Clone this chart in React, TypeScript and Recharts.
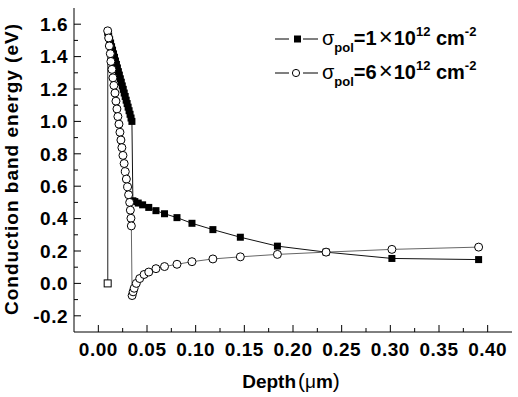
// Conduction band energy vs depth for two polarization charge densities

import { Legend, Line, LineChart, XAxis, YAxis } from "recharts";

// sigma_pol = 1e12 cm^-2 (filled squares)
const depthLow = [
  0.0096, 0.0096, 0.0106, 0.0116, 0.0126, 0.0136, 0.0146, 0.0156, 0.0166, 0.0176,
  0.0186, 0.0196, 0.0206, 0.0216, 0.0226, 0.0236, 0.0246, 0.0256, 0.0266, 0.0276,
  0.0286, 0.0296, 0.0306, 0.0316, 0.0326, 0.0336, 0.0345, 0.0355, 0.0375, 0.041,
  0.0455, 0.0518, 0.0592, 0.068, 0.0808, 0.0962, 0.1177, 0.1459, 0.184, 0.234,
  0.3016, 0.3907,
];
const energyLow = [
  0.0, 1.55, 1.527, 1.505, 1.484, 1.461, 1.44, 1.417, 1.396, 1.373,
  1.352, 1.33, 1.307, 1.286, 1.263, 1.242, 1.219, 1.198, 1.175, 1.154,
  1.131, 1.11, 1.088, 1.066, 1.044, 1.021, 1.0, 0.51, 0.505, 0.496,
  0.485, 0.469, 0.449, 0.43, 0.406, 0.371, 0.332, 0.285, 0.23, 0.193,
  0.154, 0.147,
];

// sigma_pol = 6e12 cm^-2 (open circles)
const depthHigh = [
  0.0096, 0.0096, 0.0106, 0.0113, 0.0123, 0.0129, 0.014, 0.015, 0.016, 0.0171,
  0.0181, 0.0191, 0.0201, 0.0212, 0.0222, 0.0232, 0.0242, 0.0253, 0.0265, 0.0277,
  0.0288, 0.0301, 0.0311, 0.0322, 0.0329, 0.0335, 0.0339, 0.0347, 0.0357, 0.0368,
  0.039, 0.0425, 0.047, 0.0518, 0.0592, 0.068, 0.0808, 0.0962, 0.1177, 0.1459,
  0.184, 0.234, 0.3016, 0.3907,
];
const energyHigh = [
  0.0, 1.559, 1.515, 1.466, 1.418, 1.37, 1.321, 1.269, 1.222, 1.175,
  1.125, 1.077, 1.03, 0.983, 0.933, 0.885, 0.838, 0.79, 0.74, 0.69,
  0.644, 0.596, 0.547, 0.5, 0.452, 0.402, 0.355, -0.075, -0.052, -0.03,
  0.0, 0.03, 0.055, 0.07, 0.091, 0.104, 0.118, 0.134, 0.151, 0.164,
  0.179, 0.193, 0.21, 0.224,
];

const xTicks = [
  0, 0.025, 0.05, 0.075, 0.1, 0.125, 0.15, 0.175, 0.2, 0.225, 0.25, 0.275, 0.3,
  0.325, 0.35, 0.375, 0.4,
];
const yTicks = [
  -0.2, -0.1, 0, 0.1, 0.2, 0.3, 0.4, 0.5, 0.6, 0.7, 0.8, 0.9, 1.0, 1.1, 1.2,
  1.3, 1.4, 1.5, 1.6,
];

const lowData = depthLow.map((d, i) => ({ d, e: energyLow[i] }));
const highData = depthHigh.map((d, i) => ({ d, e: energyHigh[i] }));

const FONT = "'Liberation Sans', Arial, sans-serif";
const isMajorX = (v: number) => Math.round(v * 1000) % 50 === 0;
const isMajorY = (v: number) => Math.round(v * 10) % 2 === 0;
const labelStyle = { fontFamily: FONT, fontWeight: 700, fontSize: 19, letterSpacing: 0.5 };

function BottomTick({ x, y, payload }: any) {
  const major = isMajorX(payload.value);
  return (
    <g>
      <line x1={x} y1={y} x2={x} y2={y - (major ? 7 : 4)} stroke="#000" />
      {major && (
        <text x={x} y={y + 24} textAnchor="middle" fill="#000" style={labelStyle}>
          {payload.value.toFixed(2)}
        </text>
      )}
    </g>
  );
}

function TopTick({ x, y, payload }: any) {
  const major = isMajorX(payload.value);
  return <line x1={x} y1={y} x2={x} y2={y + (major ? 7 : 4)} stroke="#000" />;
}

function LeftTick({ x, y, payload }: any) {
  const major = isMajorY(payload.value);
  return (
    <g>
      <line x1={x} y1={y} x2={x + (major ? 7 : 4)} y2={y} stroke="#000" />
      {major && (
        <text x={x - 6} y={y} dy="0.36em" textAnchor="end" fill="#000" style={labelStyle}>
          {payload.value.toFixed(1)}
        </text>
      )}
    </g>
  );
}

function RightTick({ x, y, payload }: any) {
  const major = isMajorY(payload.value);
  return <line x1={x} y1={y} x2={x - (major ? 7 : 4)} y2={y} stroke="#000" />;
}

function SquareDot(props: any) {
  const { cx, cy, index } = props;
  if (cx == null || cy == null) return <g key={`s-${index}`} />;
  const open = index === 0;
  return (
    <rect
      key={`s-${index}`}
      x={cx - 3.5}
      y={cy - 3.5}
      width={7}
      height={7}
      fill={open ? "#fff" : "#000"}
      stroke="#000"
      strokeWidth={open ? 1 : 0}
    />
  );
}

function CircleDot(props: any) {
  const { cx, cy, index } = props;
  if (cx == null || cy == null || index === 0) return <g key={`c-${index}`} />;
  return <circle key={`c-${index}`} cx={cx} cy={cy} r={4} fill="#fff" stroke="#000" strokeWidth={1} />;
}

function LegendRow({ y, marker, value }: { y: number; marker: "square" | "circle"; value: string }) {
  return (
    <g>
      <line x1={7} y1={y - 6} x2={21} y2={y - 6} stroke="#000" />
      <line x1={35} y1={y - 6} x2={50} y2={y - 6} stroke="#000" />
      {marker === "square" ? (
        <rect x={26} y={y - 9.5} width={7} height={7} fill="#000" />
      ) : (
        <circle cx={28} cy={y - 6} r={3.6} fill="#fff" stroke="#000" />
      )}
      <text x={54} y={y} fill="#000" style={{ fontFamily: FONT, fontSize: 20, fontWeight: 700 }}>
        <tspan fontWeight={400}>σ</tspan>
        <tspan fontSize={13} dy={7}>pol</tspan>
        <tspan dy={-7}>={value}</tspan>
        <tspan fontWeight={400} fontSize={24} dx={2}>×</tspan>
        <tspan dx={1}>10</tspan>
        <tspan fontSize={13} dy={-9}>12</tspan>
        <tspan dy={9}> cm</tspan>
        <tspan fontSize={13} dy={-9}>-2</tspan>
      </text>
    </g>
  );
}

function LegendBox() {
  return (
    <svg width={240} height={70} style={{ display: "block" }}>
      <LegendRow y={27} marker="square" value="1" />
      <LegendRow y={61} marker="circle" value="6" />
    </svg>
  );
}

export default function App() {
  return (
    <div style={{ position: "absolute", left: 0, top: 0, width: 518, height: 397, background: "#fff" }}>
      <LineChart width={518} height={397} margin={{ top: 8, right: 6, bottom: 0, left: 0 }}>
        <XAxis
          xAxisId="b"
          dataKey="d"
          type="number"
          domain={[-0.025, 0.425]}
          ticks={xTicks}
          interval={0}
          height={65}
          tickSize={0}
          tickMargin={0}
          tick={<BottomTick />}
          axisLine={{ stroke: "#000" }}
          label={{
            content: () => (
              <text x={291} y={388} textAnchor="middle" fill="#000" style={{ fontFamily: FONT, fontSize: 19, fontWeight: 700 }}>
                Depth
                <tspan fontWeight={400} fontSize={21} dx={2}>(</tspan>
                <tspan fontWeight={400}>μ</tspan>
                <tspan>m</tspan>
                <tspan fontWeight={400} fontSize={21}>)</tspan>
              </text>
            ),
          }}
        />
        <XAxis
          xAxisId="t"
          orientation="top"
          dataKey="d"
          type="number"
          domain={[-0.025, 0.425]}
          ticks={xTicks}
          interval={0}
          height={0}
          tickSize={0}
          tickMargin={0}
          tick={<TopTick />}
          axisLine={{ stroke: "#000" }}
        />
        <YAxis
          yAxisId="l"
          type="number"
          domain={[-0.3, 1.7]}
          ticks={yTicks}
          interval={0}
          width={74}
          tickSize={0}
          tickMargin={0}
          tick={<LeftTick />}
          axisLine={{ stroke: "#000" }}
          label={{
            content: () => (
              <text
                x={18}
                y={169}
                transform="rotate(-90 18 169)"
                textAnchor="middle"
                fill="#000"
                style={{ fontFamily: FONT, fontSize: 19, fontWeight: 700, letterSpacing: 1 }}
              >
                Conduction band energy (eV)
              </text>
            ),
          }}
        />
        <YAxis
          yAxisId="r"
          orientation="right"
          type="number"
          domain={[-0.3, 1.7]}
          ticks={yTicks}
          interval={0}
          width={0}
          tickSize={0}
          tickMargin={0}
          tick={<RightTick />}
          axisLine={{ stroke: "#000" }}
        />
        <Legend
          layout="horizontal"
          verticalAlign="middle"
          align="center"
          content={() => <LegendBox />}
          wrapperStyle={{ position: "absolute", left: 268, top: 18, width: 240, height: 70 }}
        />
        <Line
          xAxisId="b"
          yAxisId="l"
          data={lowData}
          dataKey="e"
          type="linear"
          stroke="#111"
          strokeWidth={1}
          dot={SquareDot}
          activeDot={false}
          isAnimationActive={false}
          legendType="none"
        />
        <Line
          xAxisId="b"
          yAxisId="l"
          data={highData}
          dataKey="e"
          type="linear"
          stroke="#666"
          strokeWidth={1}
          dot={CircleDot}
          activeDot={false}
          isAnimationActive={false}
          legendType="none"
        />
      </LineChart>
    </div>
  );
}
